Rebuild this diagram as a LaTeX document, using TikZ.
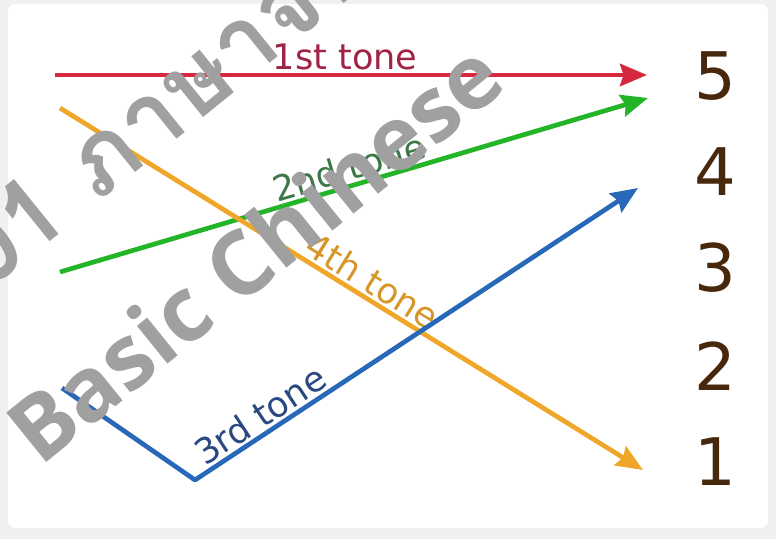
\documentclass[tikz,border=0pt]{standalone}
\usepackage{fontspec}
\setmainfont{DejaVu Sans}
\newfontfamily\thaifont[Script=Thai]{Loma}
\newfontfamily\markfont{Open Sans}
\usepackage{tikz}
\usetikzlibrary{arrows.meta,positioning}
\definecolor{redline}{RGB}{214,40,62}
\definecolor{redtext}{RGB}{160,36,70}
\definecolor{greenline}{RGB}{36,180,40}
\definecolor{greentext}{RGB}{60,120,70}
\definecolor{orangeline}{RGB}{240,166,40}
\definecolor{orangetext}{RGB}{214,150,40}
\definecolor{blueline}{RGB}{40,104,184}
\definecolor{bluetext}{RGB}{42,72,128}
\definecolor{levelbrown}{RGB}{72,40,12}
\definecolor{wmgray}{RGB}{160,160,160}

\begin{document}
\begin{tikzpicture}[x=0.03cm, y=-0.03cm,
  tone/.style={line width=4pt, line join=round,
               -{Stealth[length=23pt, width=19pt, inset=3pt]}},
  tonelabel/.style={font=\fontsize{30}{32}\selectfont, sloped, above, inner sep=2pt},
  level/.style={font=\fontsize{56}{60}\selectfont, text=levelbrown},
  wmtext/.style={text=wmgray, rotate=39, anchor=base west, inner sep=0pt}
]
\useasboundingbox (0,0) rectangle (776,539);
\clip (0,0) rectangle (776,539);

% ===== frame =====
\fill[gray!12] (0,0) rectangle (776,539);
\fill[white, rounded corners=6pt] (8,4) rectangle (768,528);

% ===== pitch levels =====
\node[level] (l5) at (715,76) {5};
\node[level] (l4) at (715,172) {4};
\node[level] (l3) at (715,268) {3};
\node[level] (l2) at (715,366) {2};
\node[level] (l1) at (715,462) {1};

% ===== tone contours =====
\coordinate (r0) at (55,75);
\coordinate (r1) at (647,75);
\coordinate (g0) at (60,272);
\coordinate (g1) at (648,98);
\coordinate (o0) at (60,108);
\coordinate (o1) at (643,470);
\coordinate (b0) at (62,388);
\coordinate (b1) at (195,480);
\coordinate (b2) at (638,188);

\draw[tone, redline] (r0) -- node[tonelabel, text=redtext, pos=0.49] {1st tone} (r1);
\draw[tone, greenline] (g0) -- node[tonelabel, text=greentext, pos=0.5] {2nd tone} (g1);
\draw[tone, orangeline] (o0) -- node[tonelabel, text=orangetext, pos=0.52] {4th tone} (o1);
\draw[tone, blueline] (b0) -- (b1) -- node[tonelabel, text=bluetext, pos=0.17] {3rd tone} (b2);

% ===== watermark =====
\node[wmtext, font=\thaifont\bfseries\fontsize{84}{90}\selectfont] (wm1) at (-12,292) {01 ภาษาจีน};
\node[wmtext, font=\markfont\bfseries\fontsize{76}{80}\selectfont] (wm2) at (40,468) {Basic Chinese};

\end{tikzpicture}
\end{document}
